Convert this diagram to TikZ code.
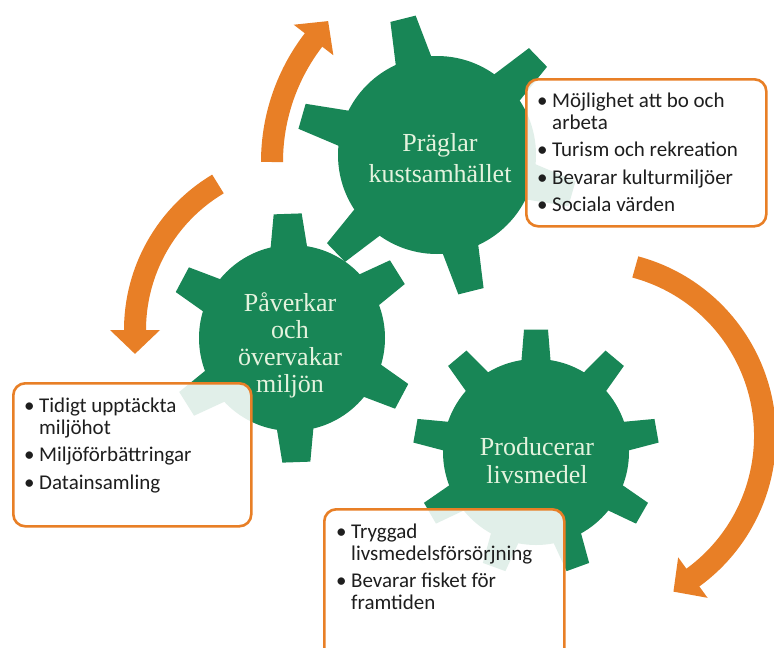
\documentclass[tikz,border=0pt]{standalone}
\usepackage{fontspec}
\newfontfamily\gearfont{Liberation Serif}
\newfontfamily\boxfont{Carlito}
\usetikzlibrary{arrows.meta}
\definecolor{gearc}{RGB}{24,134,86}
\definecolor{orangec}{RGB}{232,127,38}
\definecolor{geartxt}{RGB}{228,243,222}
\definecolor{boxtxt}{RGB}{30,30,30}
% #1 cx, #2 cy, #3 body radius, #4 tip radius, #5 tooth angles, #6 tip half width, #7 base half width
\newcommand\mygear[7]{%
  \begin{scope}[shift={(#1,#2)}]
    \fill[gearc] (0,0) circle (#3);
    \foreach \a in {#5}{
      \fill[gearc] ({\a-asin(#7/(#3-6))}:{#3-6}) -- ({\a-asin(#6/#4)}:#4)
        -- ({\a+asin(#6/#4)}:#4) -- ({\a+asin(#7/(#3-6))}:{#3-6}) -- cycle;
    }
  \end{scope}}
\newcommand\bul{\makebox[15pt][l]{•}}
\tikzset{
  geartext/.style={text=geartxt, font=\gearfont\fontsize{26}{28}\selectfont, align=center, inner sep=0pt},
  infobox/.style={draw=orangec, line width=2.6pt, rounded corners=12pt, fill=white, fill opacity=0.87, anchor=north west, inner sep=0pt},
  infotext/.style={text=boxtxt, font=\boxfont\fontsize{21}{22}\selectfont, anchor=base west, inner sep=0pt},
  shaft/.style={draw=orangec, line width=22pt},
  ahead/.style={fill=orangec},
}
\begin{document}
\begin{tikzpicture}[x=1pt,y=-1pt]
\useasboundingbox (0,0) rectangle (774,648);
\fill[white] (0,0) rectangle (774,648);
% arrow centres
\coordinate (c1) at (472,162);
\coordinate (c2) at (305,330);
\coordinate (c3) at (590,436);
% arrow 1 (up)
\draw[shaft] ([shift={(180:200)}]c1) arc[start angle=180, end angle=218.3, radius=200];
\fill[ahead] ([shift={(217.6:175)}]c1) -- ([shift={(224.4:201.4)}]c1) -- ([shift={(217.6:225)}]c1) -- cycle;
% arrow 2 (left, down)
\draw[shaft] ([shift={(239.2:170)}]c2) arc[start angle=239.2, end angle=179.3, radius=170];
\fill[ahead] ([shift={(180:145)}]c2) -- ([shift={(172:171.7)}]c2) -- ([shift={(180:195)}]c2) -- cycle;
% arrow 3 (right, down)
\draw[shaft] ([shift={(-75:175)}]c3) arc[start angle=-75, end angle=54.7, radius=175];
\fill[ahead] ([shift={(54:150)}]c3) -- ([shift={(61.8:176.6)}]c3) -- ([shift={(54:200)}]c3) -- cycle;
% gears
\mygear{437}{155}{99}{141}{16,76,136,196,256,316}{13}{19}
\mygear{292}{338}{93}{125}{28,88,148,208,268,328}{14}{19}
\mygear{536}{452}{93}{123}{30,70,110,150,190,230,270,310,350}{12}{15}
\node[geartext, font=\gearfont\fontsize{26}{31}\selectfont] (tg) at (440,158) {Präglar\\kustsamhället};
\node[geartext, font=\gearfont\fontsize{26}{27}\selectfont] (mg) at (290,345) {Påverkar\\och\\övervakar\\miljön};
\node[geartext] (bg) at (537,461) {Producerar\\livsmedel};
% boxes
\node[infobox, minimum width=240pt, minimum height=147pt] (box1) at (525,78) {};
\node[infobox, minimum width=238pt, minimum height=143pt] (box2) at (12,382) {};
\node[infobox, minimum width=240pt, minimum height=160pt] (box3) at (323,508) {};
\node[infotext] (t1) at (537,107) {\begin{tabular}[t]{@{}l@{}l@{}}
\bul & Möjlighet att bo och\\
 & arbeta\\[5.5pt]
\bul & Turism och rekreation\\[5.5pt]
\bul & Bevarar kulturmiljöer\\[5.5pt]
\bul & Sociala värden
\end{tabular}};
\node[infotext] (t2) at (24,412) {\begin{tabular}[t]{@{}l@{}l@{}}
\bul & Tidigt upptäckta\\
 & miljöhot\\[5.5pt]
\bul & Miljöförbättringar\\[5.5pt]
\bul & Datainsamling
\end{tabular}};
\node[infotext] (t3) at (336,538) {\begin{tabular}[t]{@{}l@{}l@{}}
\bul & Tryggad\\
 & livsmedelsförsörjning\\[5.5pt]
\bul & Bevarar fisket för\\
 & framtiden
\end{tabular}};
\end{tikzpicture}
\end{document}
